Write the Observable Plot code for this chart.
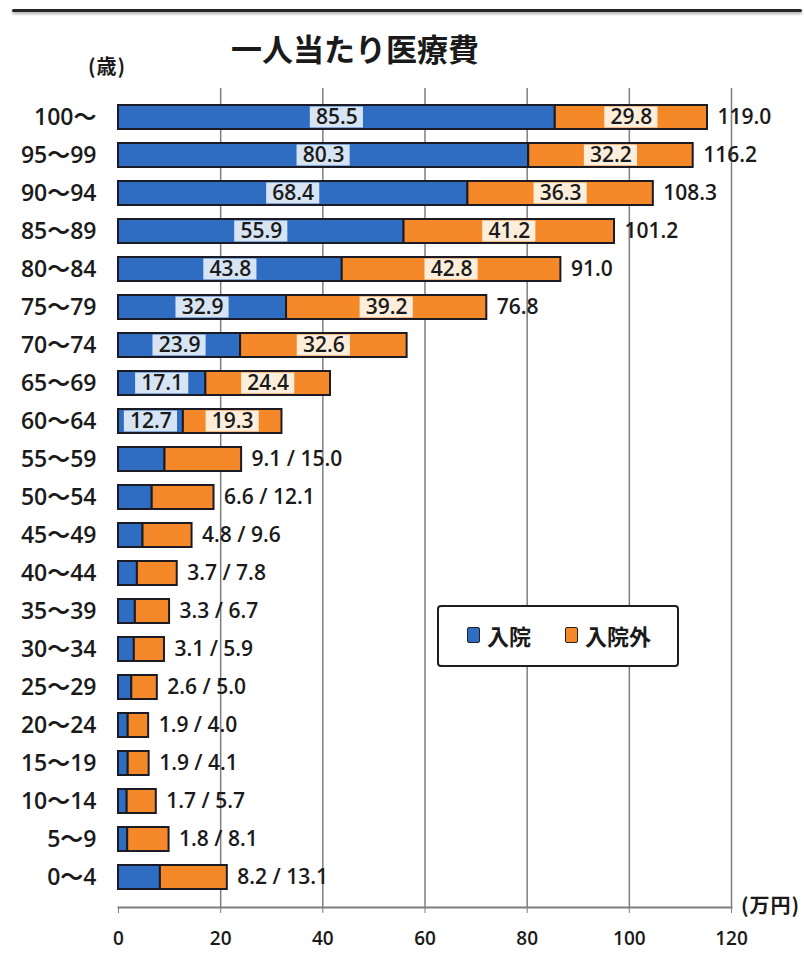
<!DOCTYPE html>
<html>
<head>
<meta charset="utf-8">
<script src="https://cdn.jsdelivr.net/npm/d3@7"></script>
<script src="https://cdn.jsdelivr.net/npm/@observablehq/plot@0.6"></script>
<style>
  body { margin: 0; background: #fff; }
  #wrap { position: relative; width: 804px; height: 954px; overflow: hidden;
          font-family: "Open Sans", "Noto Sans CJK JP", sans-serif; color: #1a1a1a; }
  #chart { position: absolute; left: 0; top: 0; }
  .topline { position: absolute; left: 12px; top: 9px; width: 790px; height: 3px;
             background: #262626; border-radius: 2px; box-shadow: 0 2px 3px rgba(0,0,0,0.35); }
  .title { position: absolute; left: 231px; top: 29px; font-family: "Noto Sans CJK JP", sans-serif;
           font-weight: 700; font-size: 31px; line-height: 1.2; }
  .unit { position: absolute; font-family: "Noto Sans CJK JP", sans-serif; font-weight: 700;
          font-size: 20px; line-height: 1.2; letter-spacing: 1px; }
  .legend { position: absolute; left: 437px; top: 605px; width: 242px; height: 62px;
            box-sizing: border-box; border: 2px solid #1e1e1e; border-radius: 4px; background: #fff;
            font-family: "Noto Sans CJK JP", sans-serif; font-weight: 700; font-size: 22px; }
  .legend .item { position: absolute; top: 13px; line-height: 30px; display: flex; align-items: center; }
  .legend .sw { display: inline-block; width: 11px; height: 14px; border: 1.5px solid #222;
                border-radius: 2px; margin-right: 7px; }
</style>
</head>
<body>
<div id="wrap">
  <div class="topline"></div>
  <div class="title">一人当たり医療費</div>
  <div class="unit" style="left:88px; top:54px;">(歳)</div>
  <div class="unit" style="left:741px; top:893px;">(万円)</div>
  <div id="chart"></div>
  <div class="legend" id="legend"></div>
</div>
<script>
// Age groups, top to bottom
const ages = ["100～", "95～99", "90～94", "85～89", "80～84", "75～79", "70～74",
              "65～69", "60～64", "55～59", "50～54", "45～49", "40～44", "35～39",
              "30～34", "25～29", "20～24", "15～19", "10～14", "5～9", "0～4"];
// Per-capita medical cost (万円): inpatient / outpatient
const inpatient  = [85.5, 80.3, 68.4, 55.9, 43.8, 32.9, 23.9, 17.1, 12.7, 9.1, 6.6,
                    4.8, 3.7, 3.3, 3.1, 2.6, 1.9, 1.9, 1.7, 1.8, 8.2];
const outpatient = [29.8, 32.2, 36.3, 41.2, 42.8, 39.2, 32.6, 24.4, 19.3, 15.0, 12.1,
                    9.6, 7.8, 6.7, 5.9, 5.0, 4.0, 4.1, 5.7, 8.1, 13.1];
// Stated totals for the oldest groups
const totals = [119.0, 116.2, 108.3, 101.2, 91.0, 76.8];
const xTicks = [0, 20, 40, 60, 80, 100, 120];
const seriesNames = ["入院", "入院外"];
const seriesColors = ["#2e6dc2", "#f5892a"];
const paleColors = ["#d6e4f4", "#fdeedb"];

// Number of age groups whose values are written inside the bars
const innerCount = 9;
const boxHalf = 5.2; // half width of the label boxes, in 万円

const fmt = d3.format(".1f");

const segments = [];
ages.forEach((age, i) => {
  segments.push({age, series: seriesNames[0], value: inpatient[i]});
  segments.push({age, series: seriesNames[1], value: outpatient[i]});
});

const inner = [];
ages.slice(0, innerCount).forEach((age, i) => {
  inner.push({age, k: 0, mid: inpatient[i] / 2, text: fmt(inpatient[i])});
  inner.push({age, k: 1, mid: inpatient[i] + outpatient[i] / 2, text: fmt(outpatient[i])});
});

const outer = [];
ages.forEach((age, i) => {
  const end = inpatient[i] + outpatient[i];
  if (i < totals.length) outer.push({age, end, text: fmt(totals[i])});
  else if (i >= innerCount) outer.push({age, end, text: `${fmt(inpatient[i])} / ${fmt(outpatient[i])}`});
});

const fontFamily = "'Open Sans', 'Noto Sans CJK JP', sans-serif";

const chart = Plot.plot({
  width: 804,
  height: 954,
  marginLeft: 118,
  marginRight: 73,
  marginTop: 88,
  marginBottom: 47,
  style: {fontFamily, fontSize: "20px", color: "#1a1a1a", background: "transparent"},
  x: {domain: [0, 120]},
  y: {domain: ages, paddingInner: 0.36, paddingOuter: 0.2},
  color: {domain: seriesNames, range: seriesColors},
  marks: [
    Plot.ruleX(xTicks.slice(1), {stroke: "#7e7e7e", strokeWidth: 1.5}),
    Plot.frame({anchor: "bottom", stroke: "#7e7e7e", strokeWidth: 2}),
    Plot.barX(segments, {y: "age", x: "value", fill: "series", stroke: "#1b1b26", strokeWidth: 2}),
    Plot.barX(inner.filter(d => d.k === 0), {y: "age", x1: d => d.mid - boxHalf, x2: d => d.mid + boxHalf,
      fill: paleColors[0], insetTop: 1.5, insetBottom: 1.5}),
    Plot.barX(inner.filter(d => d.k === 1), {y: "age", x1: d => d.mid - boxHalf, x2: d => d.mid + boxHalf,
      fill: paleColors[1], insetTop: 1.5, insetBottom: 1.5}),
    Plot.text(inner, {y: "age", x: "mid", text: "text", fontSize: 21, fontWeight: 600, fill: "#1a1a1a"}),
    Plot.text(outer, {y: "age", x: "end", text: "text", textAnchor: "start", dx: 10,
      fontSize: 21, fontWeight: 600, fill: "#1a1a1a"}),
    Plot.axisX({ticks: xTicks, tickSize: 6, tickPadding: 18, stroke: "#7e7e7e", fill: "#1a1a1a",
      fontSize: 19, fontWeight: 600, label: null}),
    Plot.axisY({tickSize: 0, tickPadding: 22, fontSize: 23, fontWeight: 600, fill: "#1a1a1a", label: null})
  ]
});
document.getElementById("chart").appendChild(chart);

// Legend
const legend = document.getElementById("legend");
const lefts = [28, 126];
seriesNames.forEach((name, i) => {
  const item = document.createElement("div");
  item.className = "item";
  item.style.left = lefts[i] + "px";
  const sw = document.createElement("span");
  sw.className = "sw";
  sw.style.background = seriesColors[i];
  item.appendChild(sw);
  item.appendChild(document.createTextNode(name));
  legend.appendChild(item);
});
</script>
</body>
</html>
